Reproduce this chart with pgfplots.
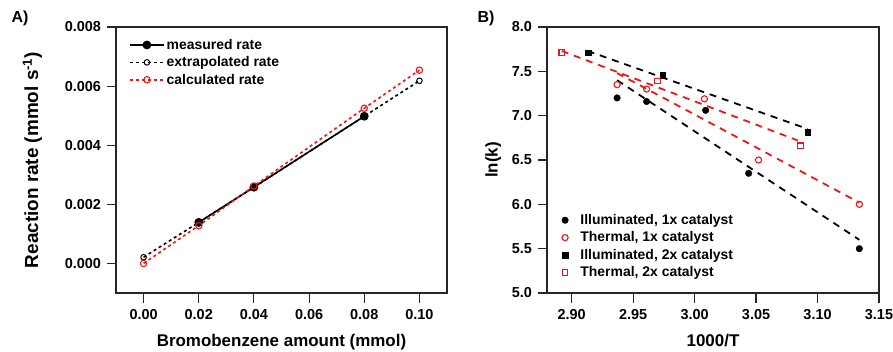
\documentclass[border=0pt]{standalone}
\usepackage{pgfplots}
\pgfplotsset{compat=1.18}
\usepackage{fontspec}
\setmainfont{Liberation Sans}
\definecolor{myred}{RGB}{240,20,20}
\pgfplotsset{
  mystyle/.style={
    scale only axis,
    axis line style={line width=1.1pt, black!85},
    every tick/.style={line width=1.1pt, black!85},
    tick align=outside,
    major tick length=9.5bp,
    xtick pos=bottom, ytick pos=left,
    tick label style={font=\fontsize{14.5}{16}\selectfont\bfseries},
    xticklabel style={yshift=-3bp},
    yticklabel style={xshift=-2bp},
    scaled x ticks=false, scaled y ticks=false,
    /pgf/number format/assume math mode=true,
    legend cell align=left,
    legend style={draw=none, fill=none, font=\fontsize{14}{16}\selectfont\bfseries, row sep=1.8bp},
    clip=false,
  }
}
\begin{document}
\begin{tikzpicture}
\path[use as bounding box] (0,0) rectangle (893bp,352bp);
\node[font=\fontsize{16}{18}\selectfont\bfseries] at (20bp,334bp) {A)};
\node[font=\fontsize{16}{18}\selectfont\bfseries] at (486bp,334bp) {B)};
% Panel A
\begin{axis}[mystyle,
  at={(116bp,59bp)}, anchor=south west, width=331bp, height=266bp,
  xmin=-0.01, xmax=0.11, ymin=-0.001, ymax=0.008,
  xtick={0,0.02,0.04,0.06,0.08,0.1},
  xticklabels={0.00,0.02,0.04,0.06,0.08,0.10},
  ytick={0,0.002,0.004,0.006,0.008},
  yticklabels={0.000,0.002,0.004,0.006,0.008},
  xlabel={Bromobenzene amount (mmol)},
  ylabel={Reaction rate (mmol s\textsuperscript{-1})},
  xlabel style={font=\fontsize{17}{19}\selectfont\bfseries, yshift=-8.5bp},
  ylabel style={font=\fontsize{19}{21}\selectfont\bfseries, yshift=16bp},
  legend image code/.code={\draw[mark repeat=2,mark phase=2,#1] plot coordinates {(0cm,0cm) (0.6cm,0cm) (1.2cm,0cm)};},
  legend style={at={(0.03,0.97)}, anchor=north west},
]
\addplot[black, line width=1.6pt, mark=*, mark size=3.6pt, mark options={solid}]
  coordinates {(0.02,0.00139) (0.04,0.00258) (0.08,0.00498)};
\addlegendentry{measured rate}
\addlegendimage{black, line width=1.6pt, dash pattern=on 3pt off 3pt, mark=o, mark size=2.8pt, mark options={solid, line width=1pt}}
\addlegendentry{extrapolated rate}
\addplot[black, line width=1.6pt, dash pattern=on 3pt off 3pt, mark=o, mark size=2.8pt, mark options={solid, line width=1pt}, mark indices={1,5}, forget plot]
  coordinates {(0,0.00021) (0.02,0.00139) (0.04,0.00258) (0.08,0.00498) (0.1,0.00618)};
\addplot[myred, line width=1.6pt, dash pattern=on 3pt off 3pt, mark=o, mark size=3.2pt, mark options={solid, line width=1.1pt}]
  coordinates {(0,0.0) (0.02,0.00128) (0.04,0.00262) (0.08,0.00525) (0.1,0.00654)};
\addlegendentry{calculated rate}
\end{axis}
% Panel B
\begin{axis}[mystyle,
  at={(547bp,59bp)}, anchor=south west, width=332bp, height=266bp,
  xmin=2.88, xmax=3.15, ymin=5, ymax=8,
  xtick={2.90,2.95,3.00,3.05,3.10,3.15},
  xticklabels={2.90,2.95,3.00,3.05,3.10,3.15},
  ytick={5,5.5,6,6.5,7,7.5,8},
  yticklabels={5.0,5.5,6.0,6.5,7.0,7.5,8.0},
  xlabel={1000/T},
  ylabel={ln(k)},
  xlabel style={font=\fontsize{17}{19}\selectfont\bfseries, yshift=-8.5bp},
  ylabel style={font=\fontsize{17}{19}\selectfont\bfseries, yshift=4bp},
  legend style={at={(0.035,0.04)}, anchor=south west, column sep=10bp},
]
% fit lines
\addplot[black, line width=1.8pt, dash pattern=on 7pt off 6pt, forget plot] coordinates {(2.937,7.40) (3.134,5.60)};
\addplot[myred, line width=1.8pt, dash pattern=on 7pt off 6pt, forget plot] coordinates {(2.937,7.48) (3.134,6.02)};
\addplot[black, line width=1.8pt, dash pattern=on 7pt off 6pt, forget plot] coordinates {(2.913,7.73) (3.092,6.85)};
\addplot[myred, line width=1.8pt, dash pattern=on 7pt off 6pt, forget plot] coordinates {(2.892,7.73) (3.084,6.72)};
% points
\addplot[only marks, mark=*, mark size=3.3pt, black] coordinates {
  (2.937,7.20) (2.961,7.16) (3.009,7.06) (3.044,6.35) (3.134,5.50)};
\addlegendentry{Illuminated, 1x catalyst}
\addplot[only marks, mark=o, mark size=3.1pt, myred, mark options={line width=1.1pt}] coordinates {
  (2.937,7.35) (2.961,7.30) (3.008,7.19) (3.052,6.50) (3.134,6.00)};
\addlegendentry{Thermal, 1x catalyst}
\addplot[only marks, mark=square*, mark size=2.9pt, black] coordinates {
  (2.9135,7.71) (2.974,7.46) (3.092,6.81)};
\addlegendentry{Illuminated, 2x catalyst}
\addplot[only marks, mark=square, mark size=2.8pt, myred, mark options={line width=1.1pt}] coordinates {
  (2.892,7.71) (2.970,7.39) (3.086,6.66)};
\addlegendentry{Thermal, 2x catalyst}
\end{axis}
\end{tikzpicture}
\end{document}
